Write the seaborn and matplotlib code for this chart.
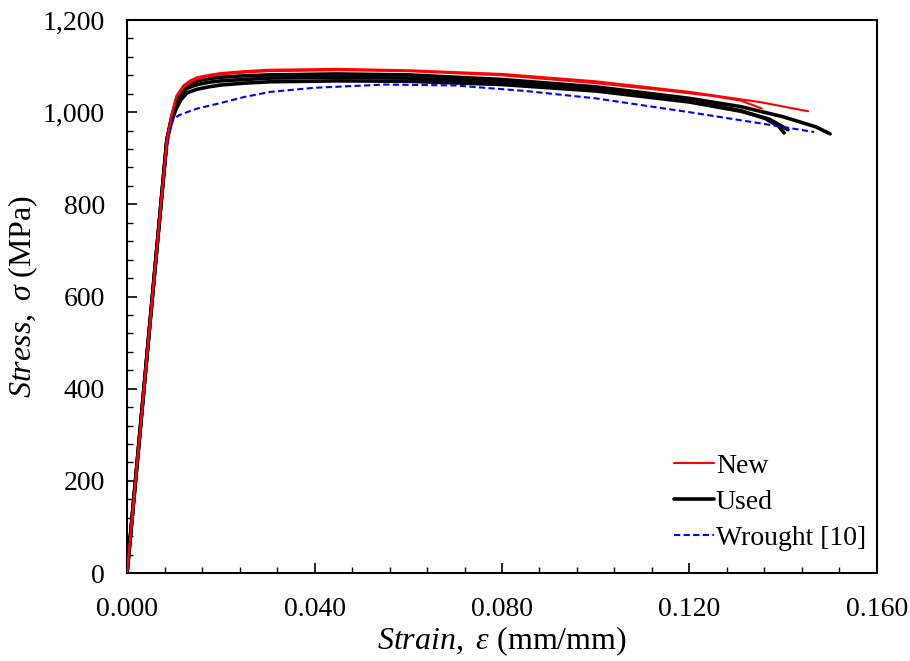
import numpy as np
import pandas as pd
import seaborn as sns
import matplotlib.pyplot as plt
from matplotlib.ticker import MultipleLocator, FuncFormatter

# curves (strain mm/mm, stress MPa)
new1_strain = [0, 0.002, 0.005, 0.0085, 0.0095, 0.0105, 0.012, 0.0135, 0.015, 0.0175, 0.020, 0.025, 0.030, 0.045, 0.060, 0.080, 0.100, 0.120, 0.135, 0.1453]
new1_stress = [0, 222, 555, 940, 995, 1035, 1058, 1069, 1076, 1081, 1085, 1089, 1092, 1094, 1091, 1083, 1067, 1044, 1022, 1002]
new2_strain = [0, 0.002, 0.005, 0.0085, 0.0095, 0.0105, 0.012, 0.0135, 0.015, 0.0175, 0.020, 0.025, 0.030, 0.045, 0.060, 0.080, 0.100, 0.115, 0.125, 0.131, 0.1354]
new2_stress = [0, 222, 555, 940, 993, 1032, 1054, 1065, 1072, 1078, 1082, 1086, 1089, 1091, 1089, 1080, 1063, 1047, 1035, 1025, 1008]

used1_strain = [0, 0.002, 0.005, 0.0085, 0.0095, 0.0105, 0.0115, 0.0128, 0.015, 0.0175, 0.020, 0.025, 0.0305, 0.045, 0.060, 0.080, 0.100, 0.120, 0.131, 0.140, 0.147, 0.1500]
used1_stress = [0, 222, 555, 940, 990, 1025, 1045, 1059, 1068, 1073, 1076, 1079, 1081, 1083, 1081, 1071, 1055, 1030, 1012, 990, 968, 953]
used2_strain = [0, 0.002, 0.005, 0.0085, 0.0095, 0.0105, 0.0115, 0.0128, 0.015, 0.0175, 0.020, 0.025, 0.0305, 0.045, 0.060, 0.080, 0.100, 0.120, 0.131, 0.136, 0.139, 0.1402]
used2_stress = [0, 222, 555, 940, 985, 1018, 1037, 1052, 1060, 1065, 1068, 1071, 1074, 1076, 1074, 1065, 1049, 1025, 1003, 987, 970, 955]
used3_strain = [0, 0.002, 0.005, 0.0085, 0.0095, 0.0105, 0.0115, 0.0128, 0.015, 0.0175, 0.020, 0.025, 0.0305, 0.045, 0.060, 0.080, 0.100, 0.120, 0.131, 0.137, 0.1410]
used3_stress = [0, 222, 555, 940, 980, 1008, 1027, 1042, 1050, 1055, 1059, 1063, 1066, 1068, 1067, 1060, 1046, 1022, 1002, 985, 962]

wrought_strain = [0, 0.002, 0.005, 0.0077, 0.0090, 0.0098, 0.011, 0.0128, 0.015, 0.020, 0.025, 0.0305, 0.040, 0.055, 0.070, 0.085, 0.100, 0.120, 0.135, 0.1466]
wrought_stress = [0, 222, 555, 853, 955, 983, 993, 1000, 1008, 1020, 1033, 1044, 1053, 1060, 1058, 1046, 1030, 1000, 976, 957]

curves = [
    ("New", new1_strain, new1_stress),
    ("New", new2_strain, new2_stress),
    ("Used", used1_strain, used1_stress),
    ("Used", used2_strain, used2_stress),
    ("Used", used3_strain, used3_stress),
    ("Wrought [10]", wrought_strain, wrought_stress),
]

sns.set_style("ticks")
plt.rcParams['font.family'] = ['Liberation Serif', 'DejaVu Serif']
plt.rcParams['mathtext.fontset'] = 'custom'
plt.rcParams['mathtext.rm'] = 'Liberation Serif'
plt.rcParams['mathtext.it'] = 'Liberation Serif:italic'
for k in ['text.color', 'axes.labelcolor', 'xtick.color', 'ytick.color', 'axes.edgecolor']:
    plt.rcParams[k] = 'black'

styles = {
    "New": dict(color="#ff0000", lw=1.5, ls="-"),
    "Used": dict(color="black", lw=2.6, ls="-"),
    "Wrought [10]": dict(color="#0000ff", lw=1.5, ls=(0, (3, 1.6))),
}

fig = plt.figure(figsize=(9.1, 6.61), dpi=100)
ax = fig.add_axes([0.1396, 0.1331, 0.8241, 0.8366])

seen = set()
for name, xs, ys in curves:
    d = pd.DataFrame({"strain": xs, "stress": ys})
    st = styles[name]
    sns.lineplot(data=d, x="strain", y="stress", ax=ax, color=st["color"],
                 linewidth=st["lw"], linestyle=st["ls"], sort=False,
                 label=None if name in seen else name, zorder=3 if name == "New" else 2)
    seen.add(name)

ax.set_xlim(0, 0.16)
ax.set_ylim(0, 1200)
ax.xaxis.set_major_locator(MultipleLocator(0.04))
ax.xaxis.set_minor_locator(MultipleLocator(0.008))
ax.yaxis.set_major_locator(MultipleLocator(200))
ax.yaxis.set_minor_locator(MultipleLocator(40))
ax.xaxis.set_major_formatter(FuncFormatter(lambda v, p: f"{v:.3f}"))
ax.yaxis.set_major_formatter(FuncFormatter(lambda v, p: f"{v:,.0f}"))
ax.tick_params(which="major", direction="in", length=7, width=1.2, labelsize=20)
ax.tick_params(axis="x", which="major", pad=17)
ax.tick_params(axis="y", which="major", pad=16)
ax.tick_params(which="minor", direction="in", length=4, width=1.0)
for s in ax.spines.values():
    s.set_linewidth(1.5)

ax.set_xlabel(r"$\mathit{Strain,}$ $\mathit{\varepsilon}$ (mm/mm)", fontsize=23, labelpad=2)
ax.set_ylabel(r"$\mathit{Stress,}$ $\mathit{\sigma}$ (MPa)", fontsize=23, labelpad=2)

leg = ax.legend(loc="lower right", bbox_to_anchor=(1.0, 0.02), borderaxespad=0, frameon=False,
                fontsize=20, handlelength=1.45, handletextpad=0.05, labelspacing=0.38)

fig.savefig("out.png", dpi=100)
